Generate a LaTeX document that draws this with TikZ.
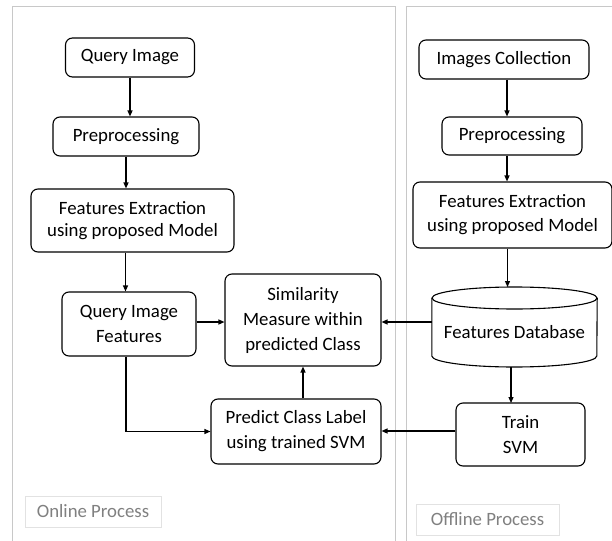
\documentclass[tikz,border=0pt]{standalone}
\usepackage{fontspec}
\setmainfont{Carlito}
\usetikzlibrary{arrows.meta,calc}
\definecolor{panelgray}{HTML}{C8C8C8}
\definecolor{labelgray}{HTML}{E2E2E2}
\definecolor{labeltext}{HTML}{808080}
\begin{document}
\begin{tikzpicture}[x=1pt,y=-1pt,
  every node/.style={font=\fontsize{18.8}{25}\selectfont},
  proc/.style={draw, line width=1.1pt, rounded corners=7pt, align=center, inner sep=0pt},
  tight/.style={font=\fontsize{18.8}{22}\selectfont},
  mid/.style={font=\fontsize{18.8}{24}\selectfont},
  panel/.style={draw=panelgray, line width=1pt},
  tag/.style={draw=labelgray, line width=0.8pt, text=labeltext, inner sep=0pt},
  flow/.style={draw, line width=1.2pt, -{Triangle[length=6pt,width=5pt]}}
]
\useasboundingbox (0,0) rectangle (612,540);
\fill[white] (0,0) rectangle (612,540);

% panels
\draw[panel] (12,560) -- (12,7) -- (395,7) -- (395,560);
\draw[panel] (406,560) -- (406,7) -- (630,7);

% online process
\node[proc, minimum width=129pt, minimum height=39pt] (q1) at (130,57.5) {Query Image};
\node[proc, minimum width=146pt, minimum height=39pt] (p1) at (126,136.5) {Preprocessing};
\node[proc, tight, minimum width=203pt, minimum height=63pt] (f1) at (132.5,220.5) {Features Extraction\\using proposed Model};
\node[proc, minimum width=134pt, minimum height=64pt] (qif) at (129,324) {Query Image\\Features};
\node[proc, minimum width=156pt, minimum height=92pt] (sim) at (303,320) {Similarity\\Measure within\\predicted Class};
\node[proc, minimum width=170pt, minimum height=65pt] (pred) at (296,431.5) {Predict Class Label\\using trained SVM};

% offline process
\node[proc, minimum width=170pt, minimum height=39pt] (q2) at (504,59.5) {Images Collection};
\node[proc, minimum width=140pt, minimum height=38pt] (p2) at (512,136) {Preprocessing};
\node[proc, mid, minimum width=199pt, minimum height=66pt] (f2) at (512.5,215) {Features Extraction\\using proposed Model};
\node[minimum width=165pt, minimum height=80pt, inner sep=0pt] (db) at (514.5,327) {};
\node[proc, minimum width=129pt, minimum height=63pt] (tr) at (520.5,434.5) {Train\\SVM};

% database cylinder
\draw[line width=1.1pt]
  (db.west |- 0,298) -- (db.west |- 0,356)
  arc[start angle=180, end angle=360, x radius=82.5pt, y radius=11pt]
  -- (db.east |- 0,298);
\draw[line width=1.1pt] (514.5,298) ellipse[x radius=82.5pt, y radius=11pt];
\node at (514.5,332) {Features Database};

% process tags
\node[tag, minimum width=136pt, minimum height=31pt] (on) at (93,511.5) {Online Process};
\node[tag, minimum width=143pt, minimum height=31pt] (off) at (487.5,519.5) {Offline Process};

% connectors
\draw[flow] (q1.south) -- (q1.south |- p1.north);
\draw[flow] (p1.south) -- (p1.south |- f1.north);
\draw[flow] ([xshift=-7pt]f1.south) -- ([xshift=-7pt]f1.south |- qif.north);
\draw[flow] (qif.east |- 0,322) -- (sim.west |- 0,322);
\draw[flow] ([xshift=-3pt]qif.south) |- (pred.west);
\draw[flow] (sim.south |- pred.north) -- (sim.south);

\draw[flow] ([xshift=3pt]q2.south) -- ([xshift=3pt]q2.south |- p2.north);
\draw[flow] ([xshift=-5pt]p2.south) -- ([xshift=-5pt]p2.south |- f2.north);
\draw[flow] ([xshift=-5pt]f2.south) -- ([xshift=-5pt]f2.south |- 0,287);
\draw[flow] (db.west |- 0,322) -- (sim.east |- 0,322);
\draw[flow] (511,367) -- (511,403);
\draw[flow] (tr.west |- 0,431) -- (pred.east |- 0,431);
\end{tikzpicture}
\end{document}
